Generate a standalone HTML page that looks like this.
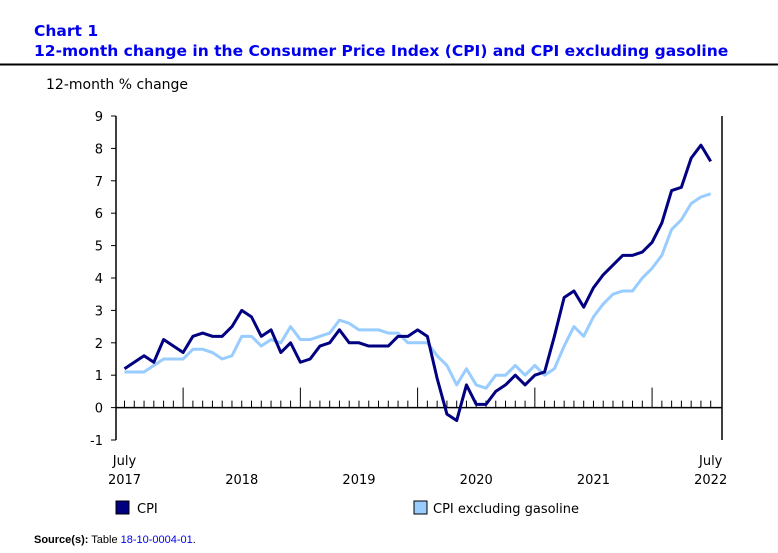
<!DOCTYPE html>
<html><head><meta charset="utf-8"><style>
body{margin:0;background:#fff;width:778px;height:549px;overflow:hidden;font-family:"DejaVu Sans","Liberation Sans",sans-serif}
svg text{font-family:"DejaVu Sans","Liberation Sans",sans-serif}
</style></head><body>
<svg id="c" width="778" height="549" xmlns="http://www.w3.org/2000/svg">
<text x="34" y="36" font-size="15.5" font-weight="bold" fill="#0000ee">Chart 1</text>
<text x="34" y="56" font-size="15.5" font-weight="bold" fill="#0000ee">12-month change in the Consumer Price Index (CPI) and CPI excluding gasoline</text>
<line x1="0" y1="64.5" x2="778" y2="64.5" stroke="#000" stroke-width="2"/>
<text x="46" y="89" font-size="14" fill="#000">12-month % change</text>
<g id="axes"></g>
<g id="series"></g>
<rect x="116" y="501" width="13" height="13" fill="#000080" stroke="#000"/>
<text x="137" y="513" font-size="13">CPI</text>
<rect x="414" y="501" width="13" height="13" fill="#99ccff" stroke="#000"/>
<text x="433" y="513" font-size="13">CPI excluding gasoline</text>
<text x="34" y="543" font-size="11" style="font-family:'Liberation Sans',sans-serif"><tspan font-weight="bold">Source(s):</tspan> Table <tspan fill="#0000ee">18-10-0004-01</tspan>.</text>
</svg>
<script>
const cpi=[1.2,1.4,1.6,1.4,2.1,1.9,1.7,2.2,2.3,2.2,2.2,2.5,3.0,2.8,2.2,2.4,1.7,2.0,1.4,1.5,1.9,2.0,2.4,2.0,2.0,1.9,1.9,1.9,2.2,2.2,2.4,2.2,0.9,-0.2,-0.4,0.7,0.1,0.1,0.5,0.7,1.0,0.7,1.0,1.1,2.2,3.4,3.6,3.1,3.7,4.1,4.4,4.7,4.7,4.8,5.1,5.7,6.7,6.8,7.7,8.1,7.6];
const exGas=[1.1,1.1,1.1,1.3,1.5,1.5,1.5,1.8,1.8,1.7,1.5,1.6,2.2,2.2,1.9,2.1,2.0,2.5,2.1,2.1,2.2,2.3,2.7,2.6,2.4,2.4,2.4,2.3,2.3,2.0,2.0,2.0,1.6,1.3,0.7,1.2,0.7,0.6,1.0,1.0,1.3,1.0,1.3,1.0,1.2,1.9,2.5,2.2,2.8,3.2,3.5,3.6,3.6,4.0,4.3,4.7,5.5,5.8,6.3,6.5,6.6];
const yTicks=[-1,0,1,2,3,4,5,6,7,8,9];
const xLabels=[["July","2017",0],["2018","",12],["2019","",24],["2020","",36],["2021","",48],["July","2022",60]];
const NS="http://www.w3.org/2000/svg";
const X0=124.5,DX=9.77,Y0=407.6,DY=32.4;
const xs=i=>X0+i*DX, ys=v=>Y0-v*DY;
const ax=document.getElementById('axes'),se=document.getElementById('series');
function mk(p,t,a){const e=document.createElementNS(NS,t);for(const k in a)e.setAttribute(k,a[k]);p.appendChild(e);return e;}
let e=mk(ax,'line',{x1:116,y1:ys(9),x2:116,y2:ys(-1),stroke:'#000','stroke-width':1.5});


e=mk(ax,'line',{x1:722,y1:ys(9),x2:722,y2:ys(-1),stroke:'#000','stroke-width':1.5});


yTicks.forEach(v=>{
 const l=mk(ax,'line',{x1:111,y1:ys(v),x2:116,y2:ys(v),stroke:'#000'});
 
 
 const t=mk(ax,'text',{x:103,y:ys(v)+5,'font-size':13,'text-anchor':'end'});t.textContent=v;
 
 
});
e=mk(ax,'line',{x1:116,y1:ys(0),x2:722,y2:ys(0),stroke:'#000','stroke-width':1.5});


for(let i=0;i<cpi.length;i++){
 const major=(i-6)%12===0;
 const l=mk(ax,'line',{x1:xs(i),y1:ys(0)-(major?20:7),x2:xs(i),y2:ys(0),stroke:'#000'});
 
 
}
xLabels.forEach(([a,b,i])=>{
 const t=mk(ax,'text',{x:xs(i),y:b?465:484,'font-size':13,'text-anchor':'middle'});t.textContent=a;
 
 
 if(b){const t2=mk(ax,'text',{x:xs(i),y:484,'font-size':13,'text-anchor':'middle'});t2.textContent=b;
 
 }
});
function line(d,c,n){const p=mk(se,'polyline',{points:d.map((v,i)=>xs(i)+','+ys(v)).join(' '),fill:'none',stroke:c,'stroke-width':3,'stroke-linejoin':'round'});
 
 }
line(exGas,'#99ccff','series-cpi-ex-gasoline');
line(cpi,'#000080','series-cpi');
</script>
</body></html>
